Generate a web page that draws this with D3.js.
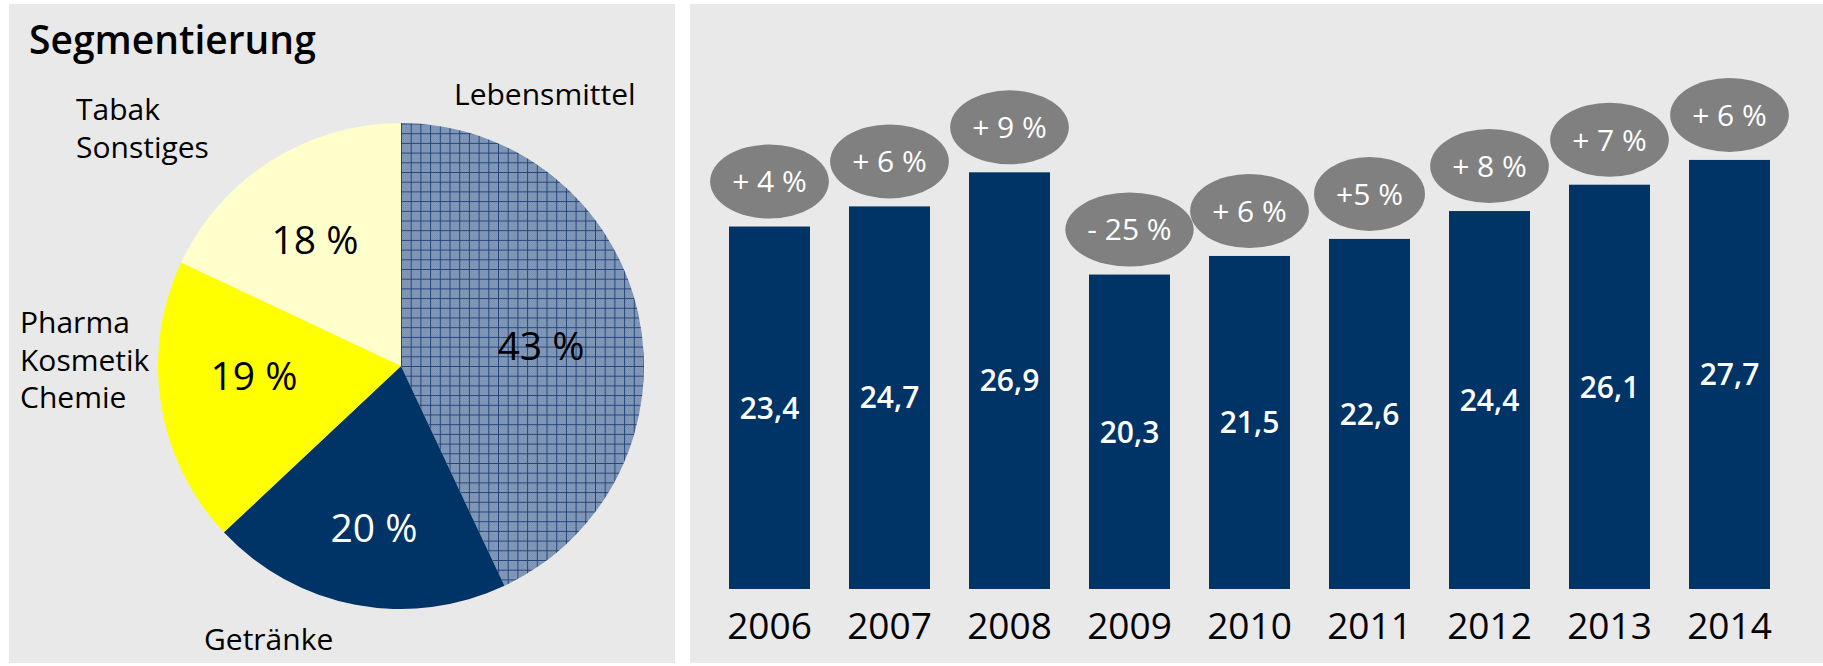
<!DOCTYPE html>
<html>
<head>
  <title>Segmentierung</title>
  <script type="text/javascript" src="https://d3js.org/d3.v7.min.js"></script>
  <style>
    body { margin: 0; background: #fff; }
    text { font-family: "Open Sans", sans-serif; }
  </style>
</head>
<body>
  <div id="container"></div>
  <script type="text/javascript">
    // pie data
    const segments = ['Lebensmittel', 'Getränke', 'Pharma\nKosmetik\nChemie', 'Tabak\nSonstiges'];
    const shares = [43, 20, 19, 18];

    // bar data
    const years = ['2006', '2007', '2008', '2009', '2010', '2011', '2012', '2013', '2014'];
    const revenue = [23.4, 24.7, 26.9, 20.3, 21.5, 22.6, 24.4, 26.1, 27.7];
    const growth = ['+ 4 %', '+ 6 %', '+ 9 %', '- 25 %', '+ 6 %', '+5 %', '+ 8 %', '+ 7 %', '+ 6 %'];

    const W = 1823, H = 666;
    const navy = '#003366', panelBg = '#e9e9e9';

    const svg = d3.select('#container').append('svg')
      .attr('width', W).attr('height', H);

    // hatched fill for Lebensmittel
    const defs = svg.append('defs');
    const dither = defs.append('pattern').attr('id', 'dither')
      .attr('patternUnits', 'userSpaceOnUse').attr('width', 2).attr('height', 2);
    dither.append('rect').attr('width', 2).attr('height', 2).attr('fill', '#8ea3c2');
    dither.append('rect').attr('width', 1).attr('height', 1).attr('fill', '#7189ab');
    dither.append('rect').attr('x', 1).attr('y', 1).attr('width', 1).attr('height', 1).attr('fill', '#7189ab');
    const grid = defs.append('pattern').attr('id', 'grid')
      .attr('patternUnits', 'userSpaceOnUse').attr('width', 9.7).attr('height', 9.7);
    grid.append('rect').attr('width', 9.7).attr('height', 9.7).attr('fill', 'url(#dither)');
    grid.append('line').attr('x1', 0.5).attr('x2', 0.5).attr('y1', 0).attr('y2', 9.7)
      .attr('stroke', '#24447a').attr('stroke-width', 1);
    grid.append('line').attr('y1', 0.5).attr('y2', 0.5).attr('x1', 0).attr('x2', 9.7)
      .attr('stroke', '#24447a').attr('stroke-width', 1);

    // panels
    svg.append('rect').attr('x', 9).attr('y', 4).attr('width', 666).attr('height', 659).attr('fill', panelBg);
    svg.append('rect').attr('x', 690).attr('y', 4).attr('width', W - 690).attr('height', 659).attr('fill', panelBg);

    // ---- left: pie ----
    svg.append('text').attr('x', 29).attr('y', 54)
      .style('font-size', '39px').style('font-weight', 600)
      .text('Segmentierung');

    const cx = 401, cy = 366, radius = 243;
    const gp = svg.append('g').attr('transform', `translate(${cx},${cy})`);

    const pie = d3.pie().sort(null).value(d => d);
    const arcs = pie(shares);
    const arc = d3.arc().innerRadius(0).outerRadius(radius);
    const fills = ['url(#grid)', navy, '#ffff00', '#ffffcc'];
    const pctColour = ['#000', '#fff', '#000', '#000'];
    // label placement (offsets from the pie centre)
    const pctPos = [[140, -20], [-27, 162], [-147, 10], [-86, -126]];

    gp.selectAll('path.slice').data(arcs).enter().append('path')
      .attr('class', 'slice')
      .attr('d', arc)
      .attr('fill', (d, i) => fills[i]);

    gp.selectAll('text.pct').data(arcs).enter().append('text')
      .attr('class', 'pct')
      .attr('x', (d, i) => pctPos[i][0]).attr('y', (d, i) => pctPos[i][1])
      .attr('text-anchor', 'middle').attr('dy', '0.36em')
      .style('font-size', '39px')
      .attr('fill', (d, i) => pctColour[i])
      .text(d => d.data + ' %');

    // category labels outside the pie
    const outerPos = [[53, -261], [-197, 284], [-381, -33], [-325, -246]];
    segments.forEach((name, i) => {
      const t = gp.append('text')
        .attr('x', outerPos[i][0]).attr('y', outerPos[i][1])
        .style('font-size', '30px');
      name.split('\n').forEach((line, j) => {
        t.append('tspan').attr('x', outerPos[i][0]).attr('dy', j ? 37.5 : 0).text(line);
      });
    });

    // ---- right: bars ----
    const x = d3.scaleBand().domain(years).range([709.5, 1789.5])
      .paddingInner(0.325).paddingOuter(0.1625);
    const y = d3.scaleLinear().domain([0, 30]).range([589, 124.3]);

    const gb = svg.append('g');
    gb.selectAll('rect.bar').data(revenue).enter().append('rect')
      .attr('class', 'bar')
      .attr('x', (d, i) => x(years[i]))
      .attr('y', d => y(d))
      .attr('width', x.bandwidth())
      .attr('height', d => y(0) - y(d))
      .attr('fill', navy);

    gb.selectAll('text.val').data(revenue).enter().append('text')
      .attr('class', 'val')
      .attr('x', (d, i) => x(years[i]) + x.bandwidth() / 2)
      .attr('y', d => (y(d) + y(0)) / 2)
      .attr('dy', '0.36em').attr('text-anchor', 'middle')
      .attr('fill', '#fff')
      .style('font-size', '30px').style('font-weight', 600)
      .text(d => d.toFixed(1).replace('.', ','));

    // growth bubbles
    const bubbles = gb.selectAll('g.bubble').data(revenue).enter().append('g')
      .attr('class', 'bubble')
      .attr('transform', (d, i) => `translate(${x(years[i]) + x.bandwidth() / 2},${y(d) - 45})`);
    const ell = bubbles.append('ellipse').attr('ry', 37).attr('fill', '#808080');
    const btxt = bubbles.append('text')
      .attr('text-anchor', 'middle').attr('dy', '0.36em')
      .attr('fill', '#fff')
      .style('font-size', '30px')
      .text((d, i) => growth[i]);
    btxt.each(function (d, i) {
      const w = this.getComputedTextLength();
      d3.select(ell.nodes()[i]).attr('rx', Math.max(54, w / 2 + 22));
    });

    // x axis labels
    const xAxis = svg.append('g').attr('transform', 'translate(0,639)')
      .call(d3.axisBottom(x).tickSize(0).tickPadding(0));
    xAxis.select('.domain').remove();
    xAxis.selectAll('text')
      .attr('dy', 0).attr('y', 0)
      .attr('fill', '#000')
      .style('font-family', '"Open Sans", sans-serif')
      .style('font-size', '37px');
  </script>
</body>
</html>
